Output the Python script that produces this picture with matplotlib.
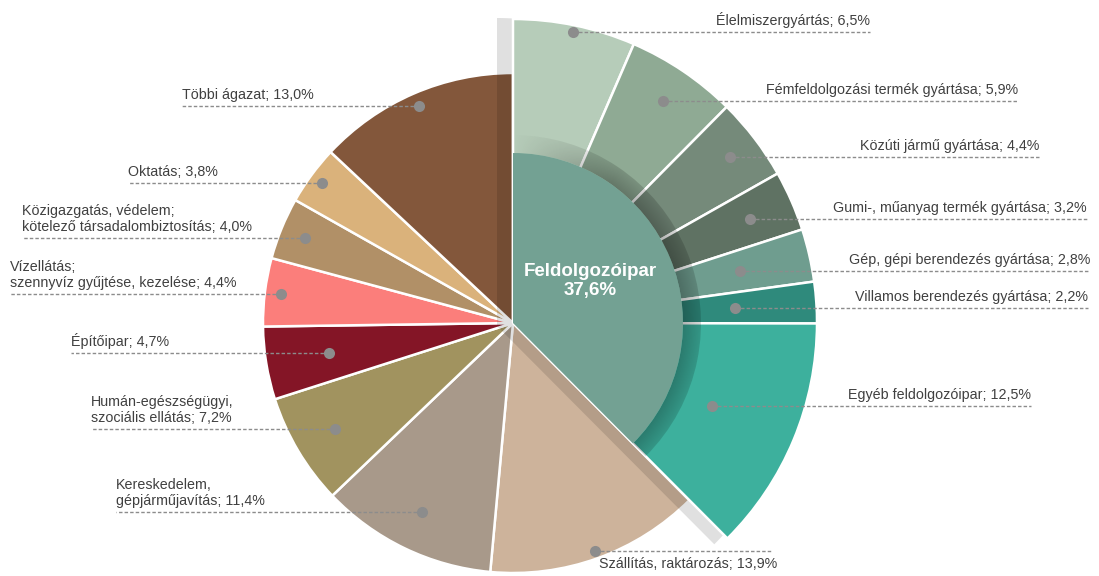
import numpy as np
import matplotlib
matplotlib.use("Agg")
import matplotlib.pyplot as plt
from matplotlib.patches import Wedge

plt.rcParams['font.family'] = ['Liberation Sans', 'DejaVu Sans']

# Data: manufacturing sub-sectors (clockwise from top) and other sectors
mfg_names = ["Élelmiszergyártás", "Fémfeldolgozási termék gyártása", "Közúti jármű gyártása",
             "Gumi-, műanyag termék gyártása", "Gép, gépi berendezés gyártása",
             "Villamos berendezés gyártása", "Egyéb feldolgozóipar"]
mfg_values = [6.5, 5.9, 4.4, 3.2, 2.8, 2.2, 12.5]
mfg_colors = ['#b6ccb9', '#8faa94', '#758a7a', '#5f7263', '#6f9d8f', '#2f8a7c', '#3db09d']
mfg_total = 37.6

oth_names = ["Szállítás, raktározás", "Kereskedelem,\ngépjárműjavítás",
             "Humán-egészségügyi,\nszociális ellátás", "Építőipar",
             "Vízellátás;\nszennyvíz gyűjtése, kezelése",
             "Közigazgatás, védelem;\nkötelező társadalombiztosítás",
             "Oktatás", "Többi ágazat"]
oth_values = [13.9, 11.4, 7.2, 4.7, 4.4, 4.0, 3.8, 13.0]
oth_colors = ['#cdb39b', '#a8998a', '#a1935f', '#841526', '#fb7e7b', '#b19067', '#dab27b', '#83573b']

# Layout (pixels, image y from top): leader line height and line end / start
line_y = [32, 101, 157, 219, 271, 308, 406, 551, 512, 429, 353, 294, 238, 183, 106]
line_x = [870, 1018, 1039, 1087, 1090, 1088, 1031, 772, 116, 91, 71, 10, 22, 128, 182]

W, H = 1099, 576
cx, cy = 513, H - 323
R_small, R_big, R_inner = 250, 304, 170

names = mfg_names + oth_names
values = mfg_values + oth_values
colors = mfg_colors + oth_colors
n_mfg = len(mfg_values)
deg = 360.0 / sum(values)
cum = np.concatenate([[0], np.cumsum(values)])

fig = plt.figure(figsize=(W / 100, H / 100), dpi=100)
ax = fig.add_axes([0, 0, 1, 1])

mfg_span = (90 - cum[n_mfg] * deg, 90)

for i, (v, c) in enumerate(zip(values, colors)):
    t2 = 90 - cum[i] * deg
    t1 = 90 - cum[i + 1] * deg
    big = i < n_mfg
    ax.add_patch(Wedge((cx, cy), R_big if big else R_small, t1, t2, facecolor=c,
                       edgecolor='white', linewidth=1.8, zorder=3 if big else 1))

# shadow of the pulled-out manufacturing block
ax.add_patch(Wedge((cx - 16, cy - 3), 308, mfg_span[0], mfg_span[1],
                   facecolor='black', alpha=0.12, linewidth=0, zorder=2))

# dark ring around the inner disc, fading out towards the top
ring_w = 18
x0, x1, y0, y1 = cx - 200, cx + 200, cy - 200, cy + 200
X, Y = np.meshgrid(np.arange(x0, x1) + 0.5, np.arange(y0, y1) + 0.5)
th = np.degrees(np.arctan2(Y - cy, X - cx))
rr = np.hypot(X - cx, Y - cy)
alpha = 0.30 * np.clip((90 - th) / 35, 0, 1) * (1 - 0.5 * np.clip((rr - R_inner) / ring_w, 0, 1))
rgba = np.zeros(X.shape + (4,))
rgba[..., 3] = alpha
ring = Wedge((cx, cy), R_inner + ring_w, mfg_span[0], mfg_span[1], width=ring_w,
             facecolor='none', linewidth=0)
ax.add_patch(ring)
im = ax.imshow(rgba, extent=(x0, x1, y0, y1), origin='lower', zorder=4,
               interpolation='bilinear')
im.set_clip_path(ring)

ax.add_patch(Wedge((cx, cy), R_inner, mfg_span[0], mfg_span[1],
                   facecolor='#73a193', linewidth=0, zorder=5))
ax.text(590, H - 281, "Feldolgozóipar\n" + f"{mfg_total:.1f}%".replace('.', ','),
        ha='center', va='center', color='white', fontsize=13.5, fontweight='bold',
        linespacing=1.15, zorder=6)

lc = '#8c8c8c'
for i, name in enumerate(names):
    t2 = 90 - cum[i] * deg
    t1 = 90 - cum[i + 1] * deg
    mid = np.radians((t1 + t2) / 2)
    ly = H - line_y[i]
    r = (ly - cy) / np.sin(mid)
    dx = cx + r * np.cos(mid)
    lx = line_x[i]
    ax.plot([dx, lx], [ly, ly], color=lc, lw=1, linestyle=(0, (2.5, 1.5)), zorder=9)
    ax.plot(dx, ly, 'o', ms=8, color=lc, mec='none', zorder=10)
    label = f"{name}; {values[i]:.1f}%".replace('.', ',')
    if i < n_mfg:
        ax.text(lx, ly + 4, label, ha='right', va='bottom', fontsize=10.3, color='#404040')
    elif i == n_mfg:
        ax.text(lx + 5, ly - 6, label, ha='right', va='top', fontsize=10.3, color='#404040')
    else:
        ax.text(lx, ly + 4, label, ha='left', va='bottom', fontsize=10.3, color='#404040',
                linespacing=1.2)

ax.set_aspect('auto')
ax.set_xlim(0, W)
ax.set_ylim(0, H)
ax.axis('off')

fig.savefig('out.png', dpi=100)
